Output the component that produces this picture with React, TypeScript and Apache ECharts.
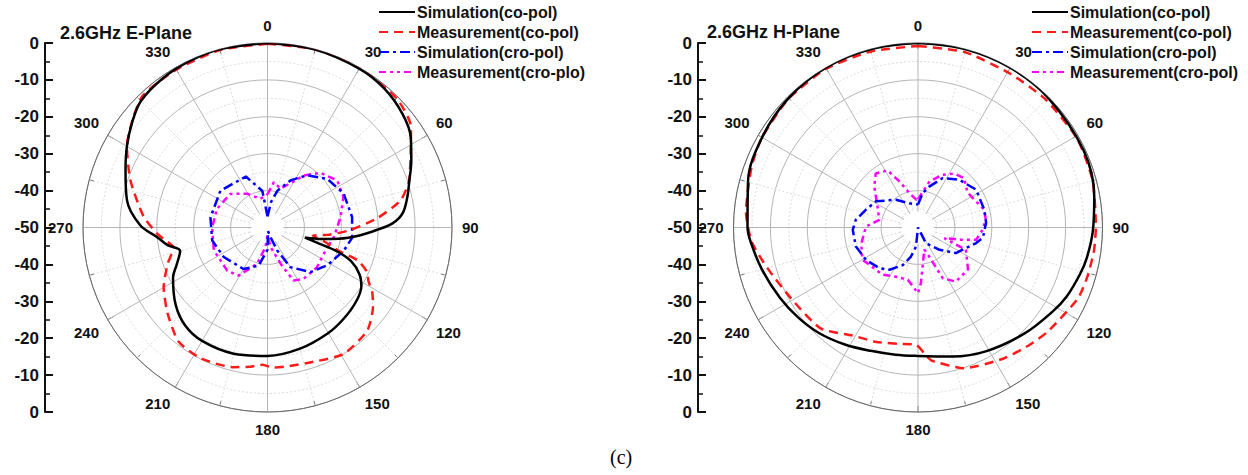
import React, { useEffect, useRef } from "react";
import * as echarts from "echarts";

// [angle (deg), gain (dB)]
const eSimCo: number[][] = [
  [0, 0], [15, -0.1], [30, -0.3], [40, -0.8], [50, -2.2], [58, -4.2], [65, -7], [72, -9.6], [78, -11.3],
  [84, -13.2], [88, -16], [91, -20], [95, -25], [99, -30.5], [102, -35], [105, -39.5], [107, -36],
  [109, -30], [112, -25.5], [117, -22], [122, -20], [130, -18.7], [140, -17.8], [150, -17], [165, -16],
  [180, -15.2], [195, -14.6], [210, -14.5], [220, -15.3], [230, -17.5], [242, -21], [248, -23.5],
  [255, -25.5], [260, -22.5], [265, -20], [271, -15.5], [281, -11.2], [292, -8.5], [300, -6],
  [308, -3.5], [315, -1.5], [325, -0.6], [335, -0.2], [345, 0], [360, 0],
];
const eMeasCo: number[][] = [
  [0, -0.2], [15, 0], [30, 0], [45, -0.5], [55, -2.5], [64, -6.9], [72, -9.7], [78.5, -13.2], [85, -20],
  [92, -27.8], [97, -33.6], [100, -37.5], [104, -34], [108, -30], [110, -24], [114, -20.5], [118, -19],
  [122, -16.5], [127, -14.2], [136, -11.1], [149, -10], [162, -11.6], [172, -12], [178, -12], [182, -12.8],
  [187, -12], [194, -11], [207, -10.2], [218, -10.8], [229, -14.2], [240, -17.5], [250, -21.2],
  [258, -24], [263, -22], [267, -20], [275, -16.3], [289, -10.7], [300, -6], [316, -0.9], [330, -0.6],
  [345, -0.2], [360, -0.2],
];
const eSimCross: number[][] = [
  [0, -47], [8, -43], [15, -39.7], [26, -35.8], [37, -32.3], [51, -29.1], [66, -27.4], [83, -26.9],
  [97, -26.9], [107, -28.4], [122, -30.8], [136, -33.2], [150, -37.6], [157, -43.2], [163, -47.3],
  [172, -49], [180, -44], [193, -39.4], [210, -37], [236, -35.7], [257, -34.6], [280, -34.3],
  [308, -33.8], [337, -35], [352, -40], [360, -47],
];
const eMeasCross: number[][] = [
  [0, -41], [8, -37.6], [18.6, -38.9], [35, -32.8], [44, -29.4], [56, -27.2], [68, -27.8], [82, -30],
  [98, -31.8], [112, -33.1], [129, -32.8], [145, -33], [154, -34], [160, -39.5], [171, -44.6],
  [180, -48], [186, -44.6], [196, -39.8], [211, -34.8], [223, -34], [247, -34.2], [270, -35],
  [290, -35.4], [312, -36.4], [329, -39.3], [346, -42], [360, -41],
];
const hSimCo: number[][] = [
  [0, 0], [15, 0], [30, 0], [45, -0.2], [65, -0.5], [80, -1.5], [91, -2.6], [100, -3.5], [106, -4.3],
  [115, -5.6], [122, -7], [135, -9.3], [151, -11.7], [165, -13.8], [180, -15.2], [190, -15],
  [201, -14.2], [212, -12.6], [223, -10.8], [233, -9.4], [243, -8], [255, -6.2], [265, -4.5],
  [270, -3.8], [285, -2.3], [300, -1.2], [315, -0.4], [330, 0], [345, 0], [360, 0],
];
const hMeasCo: number[][] = [
  [0, -0.8], [15, -0.8], [31, -1.4], [45, -1], [61, -0.6], [75, -1], [90, -1.8], [97.5, -1.9],
  [106, -2.2], [114, -2.6], [128.6, -4.9], [137, -6.2], [147, -7.6], [162, -9.9], [174, -13.7],
  [176, -14.9], [181, -18.2], [190, -18], [200, -17], [211, -15.8], [224, -12], [240, -10.7],
  [255, -7.7], [265, -4.8], [275, -3.2], [290, -2], [300, -1.2], [315, -0.5], [330, -0.3],
  [345, -0.6], [360, -0.8],
];
const hSimCross: number[][] = [
  [0, -43.8], [7.8, -40.6], [15.4, -38.5], [26.6, -35], [41, -32.9], [57, -31.2], [75, -31.4],
  [86, -31.5], [99, -32.2], [105, -33.7], [124, -37.6], [136, -41.6], [153, -45.2], [175, -50],
  [186, -44.8], [193.6, -41.9], [202, -39], [214, -36.2], [223.5, -34.8], [238, -33.4], [253, -32.4],
  [268, -32.3], [277, -33], [289, -35.1], [302, -36.6], [321.5, -40.4], [340, -43], [360, -43.8],
];
const hMeasCross: number[][] = [
  [0, -42.3], [14, -37.2], [25, -34.2], [34, -32.4], [43, -31.7], [55, -33.6], [75, -31.4],
  [83.5, -31.5], [92, -32.5], [102, -33.9], [106, -37.9], [112, -42.3], [115, -35.7], [130, -32.3],
  [145, -32.1], [154, -34.7], [159, -41.6], [164, -43.8], [177, -34.9], [180, -32.2], [191, -35.6],
  [204, -35.4], [217, -34], [240, -32.6], [254, -34], [271, -35.9], [281, -39.3], [297, -37.7],
  [313, -33.8], [322, -31.4], [332, -32.5], [338, -36.5], [346, -40.4], [357, -42.5], [360, -42.3],
];

const eNames = ["Simulation(co-pol)", "Measurement(co-pol)", "Simulation(cro-pol)", "Measurement(cro-plo)"];
const hNames = ["Simulation(co-pol)", "Measurement(co-pol)", "Simulation(cro-pol)", "Measurement(cro-pol)"];
const titles = ["2.6GHz E-Plane", "2.6GHz H-Plane"];
const caption = "(c)";

const FONT = "'Liberation Sans', Arial, sans-serif";

export default function App() {
  const ref = useRef<HTMLDivElement>(null);
  useEffect(() => {
    if (!ref.current) return;
    const chart = echarts.init(ref.current, null, { renderer: "svg" });

    const centers = [[267.5, 227.5], [918, 227.5]];
    const R = 184.5;
    const axisX = [45, 698];

    const angleAxis = (i: number) => ({
      polarIndex: i,
      type: "value",
      min: 0,
      max: 360,
      interval: 30,
      startAngle: 90,
      clockwise: true,
      axisLine: { show: true, lineStyle: { color: "#666", width: 1 } },
      axisTick: { show: true, inside: true, length: 6, lineStyle: { color: "#666" } },
      minorTick: { show: true, splitNumber: 2, length: 5, lineStyle: { color: "#666" } },
      axisLabel: { show: true, margin: 10, color: "#111", fontSize: 15, fontWeight: "bold", fontFamily: FONT },
      splitLine: { show: true, lineStyle: { color: "#b5b5b5", width: 1 } },
      minorSplitLine: { show: true, lineStyle: { color: "#dcdcdc", width: 1, type: [2, 2] } },
    });
    const radiusAxis = (i: number) => ({
      polarIndex: i,
      type: "value",
      min: -50,
      max: 0,
      interval: 10,
      axisLine: { show: false },
      axisTick: { show: false },
      axisLabel: { show: false },
      minorTick: { show: false, splitNumber: 2 },
      splitLine: { show: true, lineStyle: { color: "#b5b5b5", width: 1 } },
      minorSplitLine: { show: true, lineStyle: { color: "#dcdcdc", width: 1, type: [2, 2] } },
    });

    const grids: any[] = [];
    const xAxes: any[] = [];
    const yAxes: any[] = [];
    [0, 1].forEach((i) => {
      [false, true].forEach((lower) => {
        const gi = grids.length;
        grids.push({ left: axisX[i], top: lower ? centers[i][1] : centers[i][1] - R, width: 10, height: R });
        xAxes.push({ gridIndex: gi, type: "value", show: false });
        yAxes.push({
          gridIndex: gi,
          type: "value",
          min: -50,
          max: 0,
          interval: 10,
          inverse: lower,
          axisLine: { show: true, lineStyle: { color: "#111", width: 2 } },
          axisTick: { show: true, inside: true, length: 8, lineStyle: { color: "#111", width: 2 } },
          minorTick: { show: true, splitNumber: 2, length: 5, lineStyle: { color: "#111", width: 1.5 } },
          splitLine: { show: false },
          axisLabel: {
            show: true,
            margin: 6,
            color: "#111",
            fontSize: 17,
            fontWeight: "bold",
            fontFamily: FONT,
            showMinLabel: !lower,
          },
        });
      });
    });

    const styles = [
      { color: "#000000", type: "solid" as any, width: 2.5 },
      { color: "#ff1a1a", type: [9, 6] as any, width: 2.5 },
      { color: "#0000ff", type: [10, 4, 3, 4] as any, width: 2.5 },
      { color: "#ff00ff", type: [7, 4, 3, 4, 3, 4] as any, width: 2.5 },
    ];
    const mk = (name: string, data: number[][], pi: number, k: number, smooth: number) => ({
      type: "line",
      name,
      coordinateSystem: "polar",
      polarIndex: pi,
      data: data.map(([a, v]) => [v, a]),
      symbol: "none",
      showSymbol: false,
      smooth,
      clip: false,
      z: 3 + (3 - k),
      itemStyle: { color: styles[k].color },
      lineStyle: styles[k],
    });

    const series = [
      mk(eNames[0], eSimCo, 0, 0, 0.35),
      mk(eNames[1], eMeasCo, 0, 1, 0.2),
      mk(eNames[2], eSimCross, 0, 2, 0),
      mk(eNames[3], eMeasCross, 0, 3, 0),
      mk(hNames[0], hSimCo, 1, 0, 0.35),
      mk(hNames[1], hMeasCo, 1, 1, 0.2),
      mk(hNames[2], hSimCross, 1, 2, 0),
      mk(hNames[3], hMeasCross, 1, 3, 0),
    ];

    const legend = (names: string[], left: number) => ({
      data: names,
      orient: "vertical",
      left,
      top: -2,
      itemWidth: 36,
      itemHeight: 2,
      itemGap: 2,
      selectedMode: false,
      itemStyle: { opacity: 0, borderWidth: 0 },
      textStyle: { color: "#111", fontSize: 16, fontWeight: "bold", fontFamily: FONT, lineHeight: 18, padding: [0, 0, 0, -3] },
    });

    const option: any = {
      animation: false,
      polar: centers.map((c) => ({ center: c, radius: R })),
      angleAxis: [angleAxis(0), angleAxis(1)],
      radiusAxis: [radiusAxis(0), radiusAxis(1)],
      grid: grids,
      xAxis: xAxes,
      yAxis: yAxes,
      legend: [legend(eNames, 373), legend(hNames, 1026)],
      graphic: [
        { type: "circle", z: 1, shape: { cx: centers[0][0], cy: centers[0][1], r: 16 }, style: { fill: "#fff" } },
        { type: "circle", z: 1, shape: { cx: centers[1][0], cy: centers[1][1], r: 16 }, style: { fill: "#fff" } },
        {
          type: "text", left: 60, top: 24, z: 10,
          style: { text: titles[0], fill: "#111", font: `bold 18px ${FONT}` },
        },
        {
          type: "text", left: 707, top: 23, z: 10,
          style: { text: titles[1], fill: "#111", font: `bold 18px ${FONT}` },
        },
        {
          type: "text", left: 610, top: 447, z: 10,
          style: { text: caption, fill: "#000", font: `20px 'Liberation Serif', 'Times New Roman', serif` },
        },
      ],
      series,
    };
    chart.setOption(option);
    return () => chart.dispose();
  }, []);

  return (
    <div
      ref={ref}
      style={{ position: "fixed", left: 0, top: 0, width: 1248, height: 475, background: "#fff" }}
    />
  );
}
